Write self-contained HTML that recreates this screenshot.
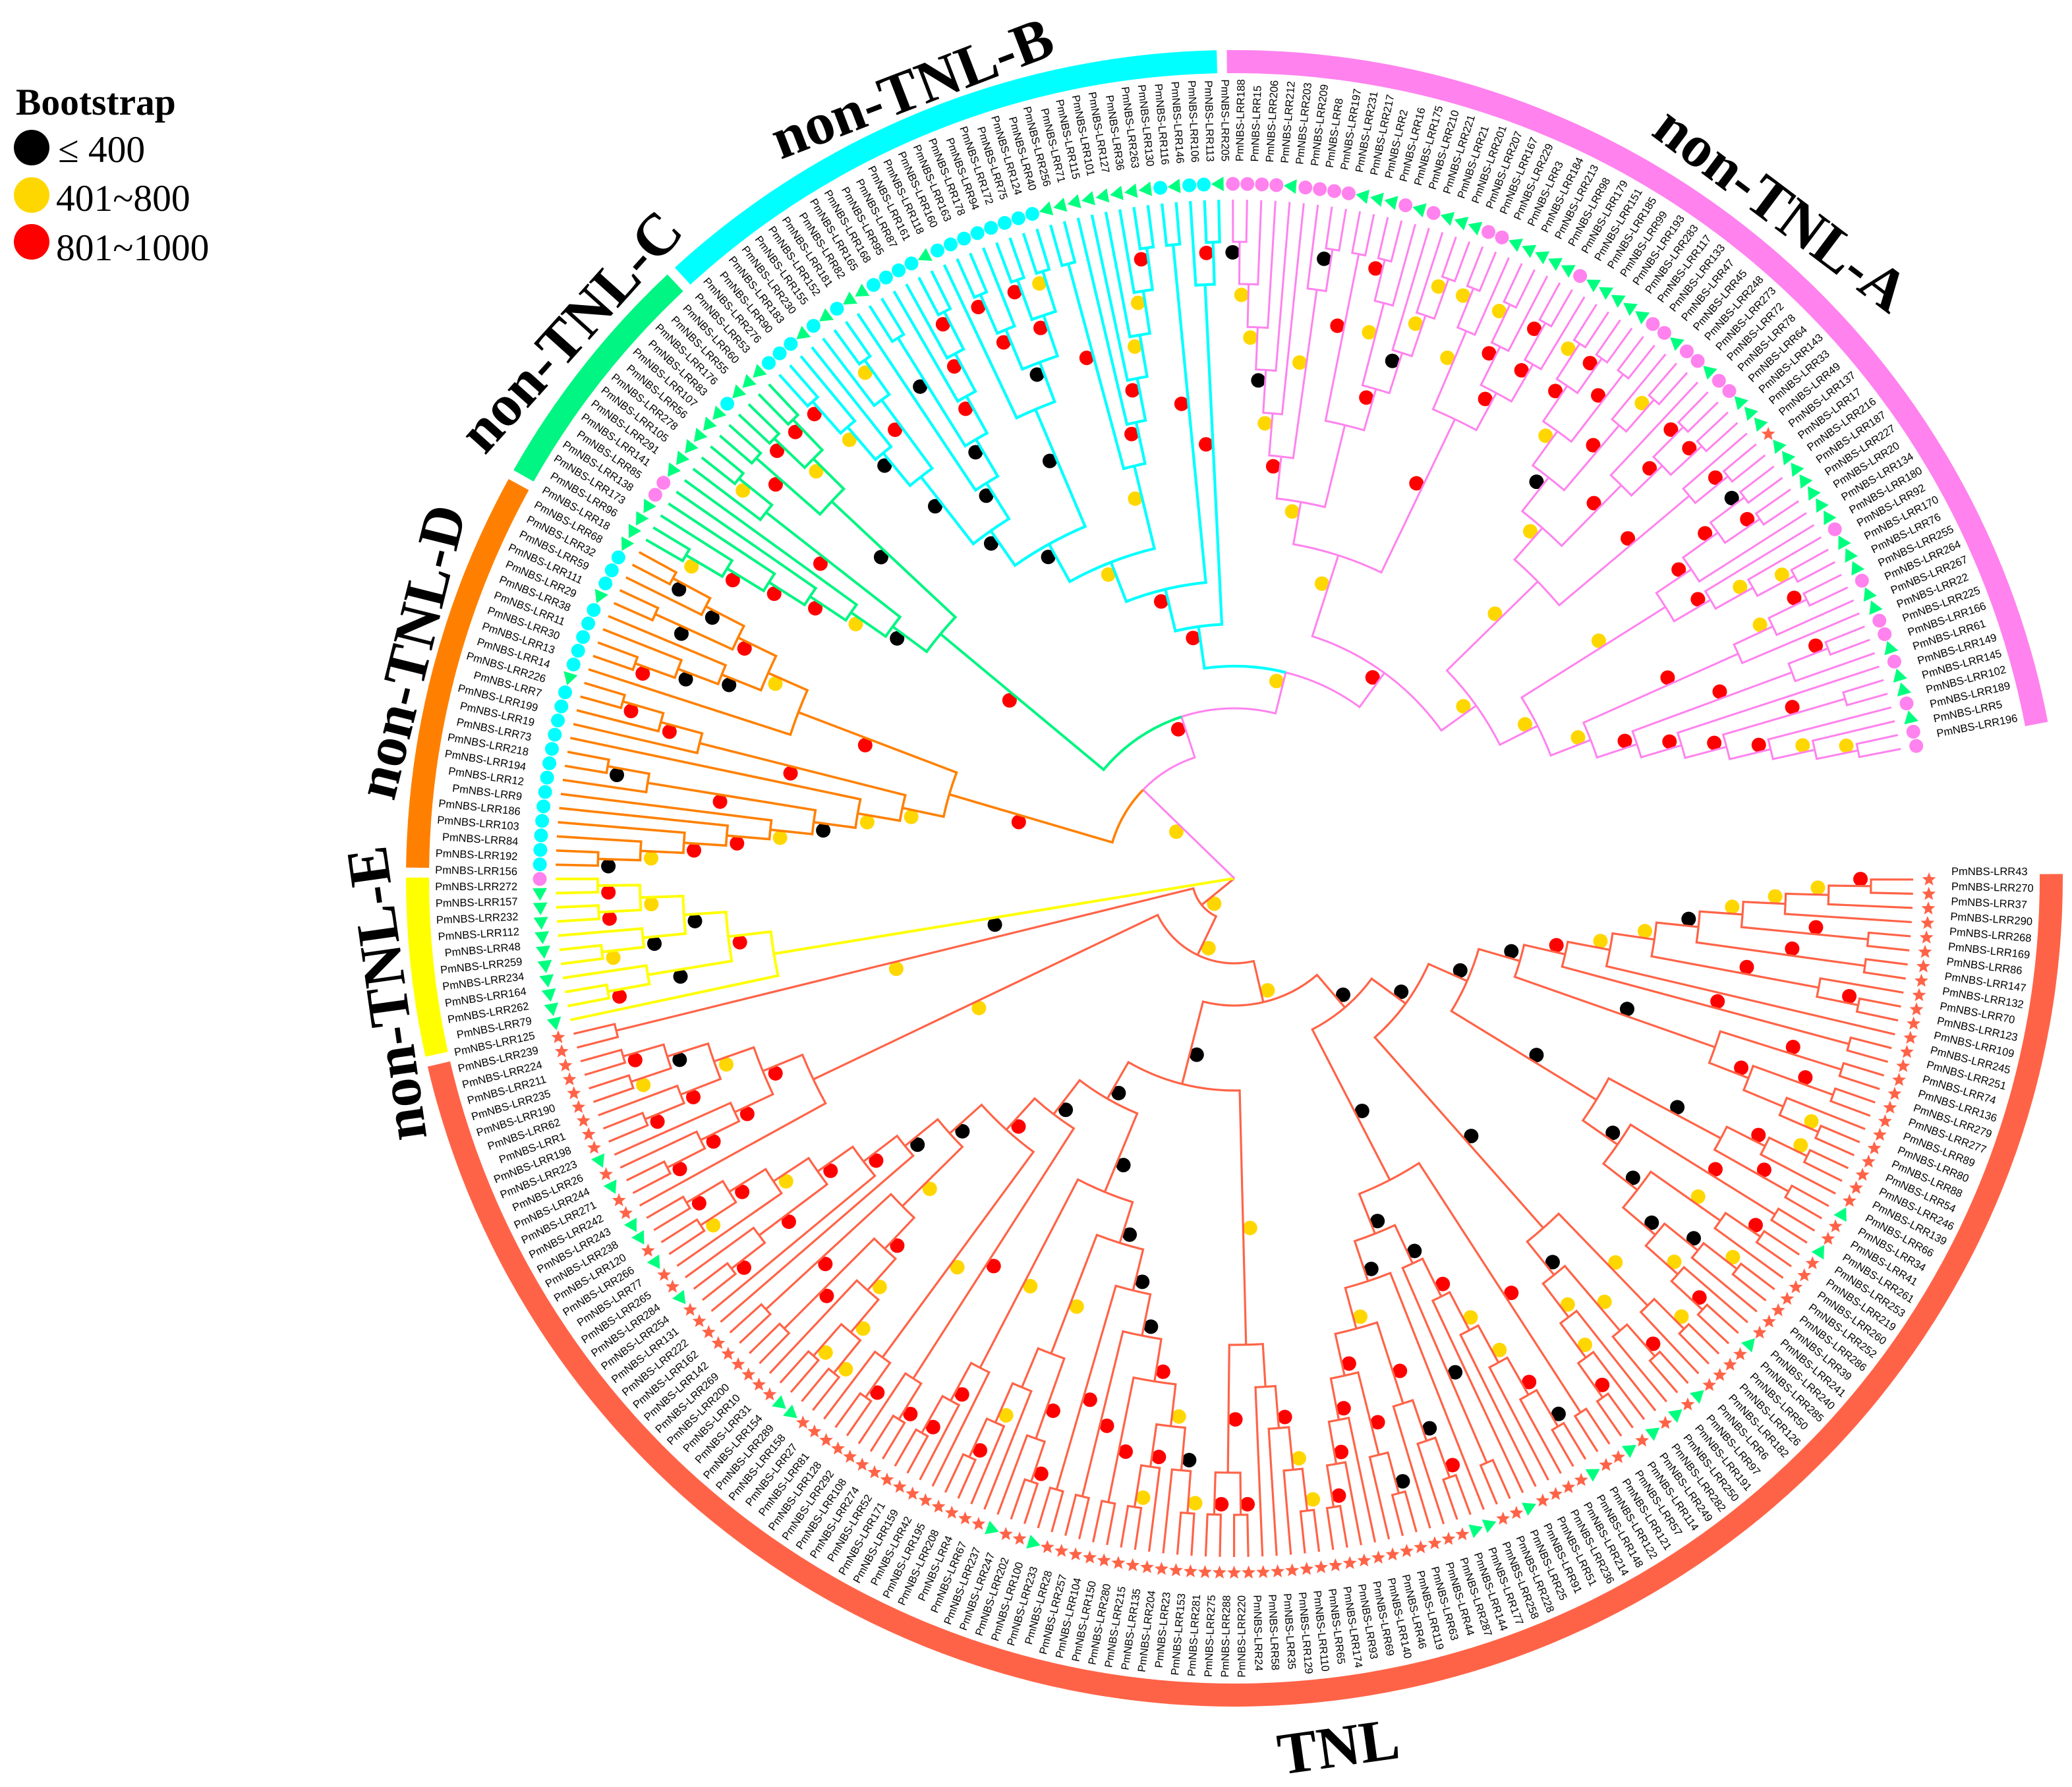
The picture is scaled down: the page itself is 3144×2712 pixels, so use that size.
<!DOCTYPE html>
<html lang="en">
<head>
<meta charset="utf-8">
<title>PmNBS-LRR circular phylogenetic tree</title>
<style>
html,body{margin:0;padding:0;background:#fff;}
svg{display:block;}
.title{font-family:"Liberation Serif",serif;font-weight:bold;font-size:90px;fill:#000;text-anchor:middle;dominant-baseline:central;}
.legend{font-family:"Liberation Serif",serif;font-size:57.5px;fill:#000;}
.tip{font-family:"Liberation Sans",sans-serif;font-size:16.5px;fill:#000;dominant-baseline:central;}
</style>
</head>
<body>
<svg id="tree-chart" xmlns="http://www.w3.org/2000/svg" width="3144" height="2712" viewBox="0 0 3144 2712">
  <rect x="0" y="0" width="3144" height="2712" fill="#ffffff"/>
  <g id="rings"></g>
  <g id="dots"></g>
  <g id="branches"></g>
  <g id="markers"></g>
  <g id="labels"></g>
  <g>
    <text class="title" transform="translate(2703,317) rotate(37)">non-TNL-A</text>
    <text class="title" transform="translate(1384,134) rotate(-21)">non-TNL-B</text>
    <text class="title" transform="translate(866,503) rotate(-48)">non-TNL-C</text>
    <text class="title" transform="translate(624,989) rotate(-76)">non-TNL-D</text>
    <text class="title" transform="translate(587,1508) rotate(-98)">non-TNL-E</text>
    <text class="title" transform="translate(2031,2651) rotate(-8)">TNL</text>
  </g>
  <g>
    <text x="24" y="174" class="legend" style="font-weight:bold">Bootstrap</text>
    <circle cx="48" cy="224" r="27" fill="#000000"/>
    <text x="88" y="246" class="legend">≤ 400</text>
    <circle cx="48" cy="296" r="27" fill="#FFD700"/>
    <text x="85" y="320" class="legend">401~800</text>
    <circle cx="48" cy="367" r="27" fill="#FF0000"/>
    <text x="85" y="395" class="legend">801~1000</text>
  </g>
</svg>
<script>
/* ---------- data ---------- */
const leafLabels = [
"PmNBS-LRR43","PmNBS-LRR270","PmNBS-LRR37","PmNBS-LRR290","PmNBS-LRR268","PmNBS-LRR169","PmNBS-LRR86","PmNBS-LRR147","PmNBS-LRR132","PmNBS-LRR70",
"PmNBS-LRR123","PmNBS-LRR109","PmNBS-LRR245","PmNBS-LRR251","PmNBS-LRR74","PmNBS-LRR136","PmNBS-LRR279","PmNBS-LRR277","PmNBS-LRR89","PmNBS-LRR80",
"PmNBS-LRR88","PmNBS-LRR54","PmNBS-LRR246","PmNBS-LRR139","PmNBS-LRR66","PmNBS-LRR34","PmNBS-LRR41","PmNBS-LRR261","PmNBS-LRR253","PmNBS-LRR219",
"PmNBS-LRR260","PmNBS-LRR252","PmNBS-LRR286","PmNBS-LRR39","PmNBS-LRR241","PmNBS-LRR240","PmNBS-LRR285","PmNBS-LRR50","PmNBS-LRR126","PmNBS-LRR182",
"PmNBS-LRR6","PmNBS-LRR97","PmNBS-LRR191","PmNBS-LRR250","PmNBS-LRR282","PmNBS-LRR249","PmNBS-LRR114","PmNBS-LRR57","PmNBS-LRR121","PmNBS-LRR122",
"PmNBS-LRR148","PmNBS-LRR214","PmNBS-LRR236","PmNBS-LRR51","PmNBS-LRR91","PmNBS-LRR25","PmNBS-LRR228","PmNBS-LRR258","PmNBS-LRR177","PmNBS-LRR144",
"PmNBS-LRR287","PmNBS-LRR44","PmNBS-LRR63","PmNBS-LRR119","PmNBS-LRR46","PmNBS-LRR140","PmNBS-LRR69","PmNBS-LRR93","PmNBS-LRR174","PmNBS-LRR65",
"PmNBS-LRR110","PmNBS-LRR129","PmNBS-LRR35","PmNBS-LRR58","PmNBS-LRR24","PmNBS-LRR220","PmNBS-LRR288","PmNBS-LRR275","PmNBS-LRR281","PmNBS-LRR153",
"PmNBS-LRR23","PmNBS-LRR204","PmNBS-LRR135","PmNBS-LRR215","PmNBS-LRR280","PmNBS-LRR150","PmNBS-LRR104","PmNBS-LRR257","PmNBS-LRR28","PmNBS-LRR233",
"PmNBS-LRR100","PmNBS-LRR202","PmNBS-LRR247","PmNBS-LRR237","PmNBS-LRR67","PmNBS-LRR4","PmNBS-LRR208","PmNBS-LRR195","PmNBS-LRR42","PmNBS-LRR159",
"PmNBS-LRR171","PmNBS-LRR52","PmNBS-LRR274","PmNBS-LRR108","PmNBS-LRR292","PmNBS-LRR128","PmNBS-LRR81","PmNBS-LRR27","PmNBS-LRR158","PmNBS-LRR289",
"PmNBS-LRR154","PmNBS-LRR31","PmNBS-LRR10","PmNBS-LRR200","PmNBS-LRR269","PmNBS-LRR142","PmNBS-LRR162","PmNBS-LRR222","PmNBS-LRR131","PmNBS-LRR254",
"PmNBS-LRR284","PmNBS-LRR265","PmNBS-LRR77","PmNBS-LRR266","PmNBS-LRR120","PmNBS-LRR238","PmNBS-LRR243","PmNBS-LRR242","PmNBS-LRR271","PmNBS-LRR244",
"PmNBS-LRR26","PmNBS-LRR223","PmNBS-LRR198","PmNBS-LRR1","PmNBS-LRR62","PmNBS-LRR190","PmNBS-LRR235","PmNBS-LRR211","PmNBS-LRR224","PmNBS-LRR239",
"PmNBS-LRR125","PmNBS-LRR79","PmNBS-LRR262","PmNBS-LRR164","PmNBS-LRR234","PmNBS-LRR259","PmNBS-LRR48","PmNBS-LRR112","PmNBS-LRR232","PmNBS-LRR157","PmNBS-LRR272",
"PmNBS-LRR156","PmNBS-LRR192","PmNBS-LRR84","PmNBS-LRR103","PmNBS-LRR186","PmNBS-LRR9","PmNBS-LRR12","PmNBS-LRR194","PmNBS-LRR218","PmNBS-LRR73",
"PmNBS-LRR19","PmNBS-LRR199","PmNBS-LRR7","PmNBS-LRR226","PmNBS-LRR14","PmNBS-LRR13","PmNBS-LRR30","PmNBS-LRR11","PmNBS-LRR38","PmNBS-LRR29",
"PmNBS-LRR111","PmNBS-LRR59","PmNBS-LRR32","PmNBS-LRR68","PmNBS-LRR18","PmNBS-LRR96","PmNBS-LRR173","PmNBS-LRR138","PmNBS-LRR85","PmNBS-LRR141",
"PmNBS-LRR291","PmNBS-LRR105","PmNBS-LRR278","PmNBS-LRR56","PmNBS-LRR107","PmNBS-LRR83","PmNBS-LRR176","PmNBS-LRR55","PmNBS-LRR60","PmNBS-LRR53",
"PmNBS-LRR276","PmNBS-LRR90","PmNBS-LRR183","PmNBS-LRR230","PmNBS-LRR155","PmNBS-LRR152","PmNBS-LRR181","PmNBS-LRR82","PmNBS-LRR165","PmNBS-LRR168",
"PmNBS-LRR95","PmNBS-LRR87","PmNBS-LRR161","PmNBS-LRR118","PmNBS-LRR160","PmNBS-LRR163","PmNBS-LRR178","PmNBS-LRR94","PmNBS-LRR172","PmNBS-LRR75",
"PmNBS-LRR124","PmNBS-LRR40","PmNBS-LRR256","PmNBS-LRR71","PmNBS-LRR115","PmNBS-LRR101","PmNBS-LRR127","PmNBS-LRR36","PmNBS-LRR263","PmNBS-LRR130",
"PmNBS-LRR116","PmNBS-LRR146","PmNBS-LRR106","PmNBS-LRR113","PmNBS-LRR205",
"PmNBS-LRR188","PmNBS-LRR15","PmNBS-LRR206","PmNBS-LRR212","PmNBS-LRR203","PmNBS-LRR209","PmNBS-LRR8","PmNBS-LRR197","PmNBS-LRR231","PmNBS-LRR217",
"PmNBS-LRR2","PmNBS-LRR16","PmNBS-LRR175","PmNBS-LRR210","PmNBS-LRR221","PmNBS-LRR21","PmNBS-LRR201","PmNBS-LRR207","PmNBS-LRR167","PmNBS-LRR229",
"PmNBS-LRR3","PmNBS-LRR184","PmNBS-LRR213","PmNBS-LRR98","PmNBS-LRR179","PmNBS-LRR151","PmNBS-LRR185","PmNBS-LRR99","PmNBS-LRR193","PmNBS-LRR283",
"PmNBS-LRR117","PmNBS-LRR133","PmNBS-LRR47","PmNBS-LRR45","PmNBS-LRR248","PmNBS-LRR273","PmNBS-LRR72","PmNBS-LRR78","PmNBS-LRR64","PmNBS-LRR143",
"PmNBS-LRR33","PmNBS-LRR49","PmNBS-LRR137","PmNBS-LRR17","PmNBS-LRR216","PmNBS-LRR187","PmNBS-LRR227","PmNBS-LRR20","PmNBS-LRR134","PmNBS-LRR180",
"PmNBS-LRR92","PmNBS-LRR170","PmNBS-LRR76","PmNBS-LRR255","PmNBS-LRR264","PmNBS-LRR267","PmNBS-LRR22","PmNBS-LRR225","PmNBS-LRR166","PmNBS-LRR61",
"PmNBS-LRR149","PmNBS-LRR145","PmNBS-LRR102","PmNBS-LRR189","PmNBS-LRR5","PmNBS-LRR196"
];

/* marker shape per leaf, run-length: s star, t triangle, p pink circle, c cyan circle */
const markerRuns = [['s',24],['t',1],['s',2],['t',1],['s',7],['t',1],['s',4],['t',1],['s',1],['t',1],['s',1],['t',1],['s',1],['t',1],['s',2],['t',1],['s',4],['t',1],['s',2],['t',2],['s',30],['t',1],['s',2],['t',1],['s',15],['t',2],['s',9],['t',1],['s',2],['t',1],['s',1],['t',2],['s',2],['t',1],['s',1],['t',1],['s',9],['t',10],['p',1],['c',13],['t',1],['c',5],['t',1],['c',3],['t',4],['p',2],['t',6],['c',1],['t',3],['c',3],['t',1],['c',1],['t',1],['c',1],['t',2],['c',4],['t',1],['c',8],['t',8],['c',1],['t',1],['c',2],['t',1],['p',4],['t',1],['p',4],['t',3],['p',1],['t',1],['p',1],['t',3],['p',2],['t',5],['p',1],['t',5],['p',2],['t',1],['p',2],['t',1],['p',2],['t',3],['s',1],['t',7],['p',1],['t',3],['p',1],['t',2],['p',2],['t',1],['p',1],['t',2],['p',1],['t',1],['p',2]];

const groupNames  = ['tnl','non-tnl-e','non-tnl-d','non-tnl-c','non-tnl-b','non-tnl-a'];
const groupFirst  = [0,140,151,175,190,225];
const groupLast   = [139,150,174,189,224,291];
const groupColors = ['#FF6347','#FFFF00','#FF8000','#00F582','#00FFFF','#FF82EE'];
const groupWidths = [3.2,4,3.6,4,4.2,3];

/* bootstrap support levels; N means no value drawn */
const K = 300, G = 600, R = 900, N = 0;

/* Tree nodes: [depth, bootstrap, ...children]; a leaf is 0. Leaves are numbered in order of appearance. */
const cladeRightA = [322,K,
 [386,K,
  [451,K,
   [515,R,
    [580,G,
     [644,G,
      [708,K,
       [773,G,[837,G,[902,G,[966,R,0,0],0],0],[966,R,0,0]],
       [966,R,0,0]],
      [902,R,0,[966,R,0,0]]],
     0],
    [966,R,0,0]],
   [773,K,
    [966,R,0,0],
    [837,R,
     [966,R,0,0],
     [902,N,0,[966,G,0,0]]]]],
  [644,K,
   [837,K,[902,R,[966,G,0,0],0],[966,R,0,0]],
   [708,K,
    [966,R,0,0],
    [773,K,
     [902,G,[966,R,0,0],0],
     [837,K,
      [902,K,[966,G,0,0],0],
      [902,G,0,[966,R,0,0]]]]]]],
 [708,K,
  [902,G,[966,G,0,0],0],
  [773,K,
   [902,G,[966,R,0,0],0],
   [837,G,0,[902,G,0,[966,R,0,0]]]]]];

const cladeRightB = [515,K,
 [966,R,0,0],
 [580,K,
  [644,K,
   [708,R,[773,G,[837,G,[902,R,[966,K,0,0],0],0],0],0],
   [966,K,0,0]],
  [644,K,0,
   [708,G,
    [837,R,[902,K,[966,R,0,0],0],0],
    [773,R,
     [902,R,[966,K,0,0],0],
     [837,R,0,[902,R,0,[966,R,0,0]]]]]]]];

const cladeBottomA = [708,G,
 [773,N,[837,R,[902,G,[966,G,0,0],0],0],0],
 [902,R,[966,R,0,0],[966,R,0,0]]];

const cladeBottomB = [386,K,
 [515,K,
  [580,K,
   [644,K,
    [708,K,
     [773,R,
      [837,G,
       [902,K,[966,G,0,0],0],
       [902,R,0,[966,G,0,0]]],
      [966,R,0,0]],
     [966,R,0,0]],
    [966,R,0,0]],
   [773,G,
    [902,R,[966,R,0,0],0],
    [837,N,0,[902,G,0,[966,R,0,0]]]]],
  [837,G,0,[902,R,0,[966,R,0,0]]]],
 [451,K,
  [902,R,[966,R,0,0],0],
  [515,R,
   [902,G,[966,R,0,0],0],
   [580,K,
    [708,G,
     [773,R,
      [837,G,[902,G,[966,G,0,0],[966,G,0,0]],0],
      [966,R,0,0]],
     [966,R,0,0]],
    [644,K,0,
     [708,R,0,
      [773,R,
       [902,R,[966,R,0,0],0],
       [837,G,0,[902,R,[966,G,0,0],[966,R,0,0]]]]]]]]]];

const cladeLowerLeft = [708,G,0,
 [773,R,
  [837,R,[902,R,[966,R,0,0],0],0],
  [837,G,
   [902,R,[966,R,0,0],0],
   [902,K,[966,G,0,0],[966,R,0,0]]]]];

const cladeTomato = [64,G,
 [129,G,
  [193,G,
   [258,K,cladeRightA,cladeRightB],
   [322,K,cladeBottomA,cladeBottomB]],
  cladeLowerLeft],
 [966,G,0,0]];

const cladeYellow = [708,K,0,
 [773,R,
  [902,K,[966,R,0,0],0],
  [837,K,
   [902,K,[966,G,0,0],0],
   [902,G,[966,R,0,0],[966,R,0,0]]]]];

const cladeOrange = [451,R,
 [515,G,
  [580,G,
   [644,K,
    [708,G,[773,R,[837,R,[902,G,[966,K,0,0],0],0],0],0],
    [902,R,0,[966,K,0,0]]],
   0],
  [837,R,0,[902,R,0,[966,R,0,0]]]],
 [708,R,0,
  [773,G,
   [837,K,[902,K,[966,R,0,0],0],0],
   [837,R,[966,K,0,0],[902,K,0,[966,K,0,0]]]]]];

const cladeGreen = [580,R,
 [644,K,
  [708,G,[773,R,[837,R,[902,R,[966,G,0,0],0],0],0],0],
  [902,R,0,[966,G,0,0]]],
 [837,K,
  [966,R,0,0],
  [902,G,[966,R,0,0],[966,R,0,0]]]];

const cladeCyan = [386,R,
 [451,R,
  [515,G,
   [580,K,
    [644,K,
     [773,K,
      [837,K,[902,G,[966,R,0,0],0],0],
      [902,R,0,[966,G,0,0]]],
     [708,K,0,
      [773,K,
       [966,K,0,0],
       [837,R,0,[902,R,0,[966,R,0,0]]]]]],
    [773,K,0,
     [837,K,
      [902,R,[966,R,0,0],0],
      [902,R,[966,R,0,0],[966,G,0,0]]]]],
   [644,G,
    [966,R,0,0],
    [708,R,0,[773,R,0,[837,G,0,[902,G,0,[966,R,0,0]]]]]]],
  [966,R,0,0]],
 [902,R,0,[966,R,0,0]]];

const cladePinkLeft = [515,G,
 [580,G,
  [644,R,
   [708,G,[773,K,[837,G,[902,G,[966,K,0,0],0],0],0],0],
   [902,G,0,[966,K,0,0]]],
  [708,N,
   [966,R,0,0],
   [773,R,
    [902,G,[966,R,0,0],0],
    [837,K,0,[902,G,0,[966,G,0,0]]]]]],
 [773,R,
  [902,G,[966,G,0,0],0],
  [837,R,
   [902,R,[966,G,0,0],0],
   [902,R,[966,R,0,0],0]]]];

const cladePinkRight = [451,G,
 [644,G,
  [708,G,
   [773,K,
    [837,G,
     [902,R,[966,G,0,0],[966,R,0,0]],
     [966,R,0,0]],
    [902,R,0,[966,G,0,0]]],
   [837,R,0,
    [902,R,[966,R,0,0],[966,R,0,0]]]],
  [902,R,0,[966,R,0,0]]],
 [515,G,
  [773,G,
   [837,R,[902,R,[966,K,0,0],[966,R,0,0]],0],
   [837,R,0,[902,G,0,[966,G,0,0]]]],
  [580,G,
   [837,R,[902,G,[966,R,0,0],0],0],
   [644,R,
    [902,R,[966,R,0,0],0],
    [708,R,0,
     [773,R,
      [966,R,0,0],
      [837,R,0,[902,G,0,[966,G,0,0]]]]]]]]];

const cladeUpper = [193,G,
 cladeOrange,
 [258,R,
  cladeGreen,
  [322,G,
   cladeCyan,
   [386,R,cladePinkLeft,cladePinkRight]]]];

const treeRoot = [0,N,cladeTomato,cladeYellow,cladeUpper];

/* ---------- axis functions ---------- */
const CX = 1873, CY = 1333;
const TIP_DEPTH = 1030;
const MAX_RADIUS = 1030;
function radiusScale(depth){ return depth * MAX_RADIUS / TIP_DEPTH; }
function angleScale(leafPosition){ return 0.1 + leafPosition * 1.199; }
function polar(radius, deg){
  const a = deg * Math.PI / 180;
  return [CX + radius * Math.cos(a), CY + radius * Math.sin(a)];
}
function tangentCCW(deg){
  const a = deg * Math.PI / 180;
  return [Math.sin(a), -Math.cos(a)];
}
function f(v){ return v.toFixed(2); }

const NS = 'http://www.w3.org/2000/svg';
function create(tag, parentId){
  const el = document.createElementNS(NS, tag);
  document.getElementById(parentId).appendChild(el);
  return el;
}
function bootstrapColor(v){
  if (v <= 400) return '#000000';
  if (v <= 800) return '#FFD700';
  return '#FF0000';
}

/* ---------- clade rings ---------- */
groupNames.forEach(function(name, g){
  const a0 = angleScale(groupFirst[g]) - 0.4;
  const a1 = angleScale(groupLast[g]) + 0.1;
  const rIn = 1222, rOut = 1257;
  const p0 = polar(rOut, a0), p1 = polar(rOut, a1), p2 = polar(rIn, a1), p3 = polar(rIn, a0);
  const large = (a1 - a0) > 180 ? 1 : 0;
  const el = create('path', 'rings');
  el.setAttribute('d', 'M' + f(p0[0]) + ' ' + f(p0[1]) + ' A' + rOut + ' ' + rOut + ' 0 ' + large + ' 1 ' + f(p1[0]) + ' ' + f(p1[1]) +
    ' L' + f(p2[0]) + ' ' + f(p2[1]) + ' A' + rIn + ' ' + rIn + ' 0 ' + large + ' 0 ' + f(p3[0]) + ' ' + f(p3[1]) + ' Z');
  el.setAttribute('fill', groupColors[g]);
  
  
});

/* ---------- tree layout ---------- */
let leafCounter = 0;
function layout(node){
  if (node === 0){
    const i = leafCounter;
    leafCounter += 1;
    return { depth: TIP_DEPTH, boot: N, pos: i, first: i, last: i, kids: [] };
  }
  const kids = node.slice(2).map(layout);
  return {
    depth: node[0],
    boot: node[1],
    pos: (kids[0].pos + kids[kids.length - 1].pos) / 2,
    first: kids[0].first,
    last: kids[kids.length - 1].last,
    kids: kids
  };
}
const laidOut = layout(treeRoot);

function groupIndexFor(n){
  for (let g = 0; g < groupNames.length; g++){
    if (n.first >= groupFirst[g] && n.last <= groupLast[g]) return g;
  }
  return groupNames.length - 1;
}

function drawNode(n){
  const rNode = radiusScale(n.depth);
  const aNode = angleScale(n.pos);
  n.kids.forEach(function(k){
    const g = groupIndexFor(k);
    const aKid = angleScale(k.pos);
    const rKid = radiusScale(k.depth);
    const s = polar(rNode, aNode), m = polar(rNode, aKid), e = polar(rKid, aKid);
    let d = 'M' + f(s[0]) + ' ' + f(s[1]);
    if (rNode > 0 && Math.abs(aKid - aNode) > 0.001){
      const sweep = aKid > aNode ? 1 : 0;
      d += ' A' + f(rNode) + ' ' + f(rNode) + ' 0 0 ' + sweep + ' ' + f(m[0]) + ' ' + f(m[1]);
    }
    d += ' L' + f(e[0]) + ' ' + f(e[1]);
    const br = create('path', 'branches');
    br.setAttribute('d', d);
    br.setAttribute('fill', 'none');
    br.setAttribute('stroke', groupColors[g]);
    br.setAttribute('stroke-width', groupWidths[g]);
    br.setAttribute('stroke-linejoin', 'miter');
    
    
    if (k.boot > 0){
      const rDot = (rNode + rKid) / 2 + 16;
      const c = polar(rDot, aKid);
      const t = tangentCCW(aKid);
      const dot = create('circle', 'dots');
      dot.setAttribute('cx', f(c[0] + 10.5 * t[0]));
      dot.setAttribute('cy', f(c[1] + 10.5 * t[1]));
      dot.setAttribute('r', '11');
      dot.setAttribute('fill', bootstrapColor(k.boot));
      
      
    }
    drawNode(k);
  });
}
drawNode(laidOut);

/* ---------- tip markers ---------- */
const leafShapes = [];
markerRuns.forEach(function(run){
  for (let j = 0; j < run[1]; j++) leafShapes.push(run[0]);
});
const MARKER_RADIUS = 1054;
leafShapes.forEach(function(shape, i){
  const deg = angleScale(i);
  const c = polar(MARKER_RADIUS, deg);
  if (shape === 'p' || shape === 'c'){
    const el = create('circle', 'markers');
    el.setAttribute('cx', f(c[0]));
    el.setAttribute('cy', f(c[1]));
    el.setAttribute('r', '10.5');
    el.setAttribute('fill', shape === 'p' ? '#FF82EE' : '#00FFFF');
    
    
  } else if (shape === 't'){
    const t = tangentCCW(deg);
    const nx = -t[1], ny = t[0];
    const pts = [
      [c[0] + 11 * t[0], c[1] + 11 * t[1]],
      [c[0] - 8 * t[0] + 11 * nx, c[1] - 8 * t[1] + 11 * ny],
      [c[0] - 8 * t[0] - 11 * nx, c[1] - 8 * t[1] - 11 * ny]
    ];
    const el = create('polygon', 'markers');
    el.setAttribute('points', pts.map(function(p){ return f(p[0]) + ',' + f(p[1]); }).join(' '));
    el.setAttribute('fill', '#00FF7F');
    
    
  } else {
    const pts = [];
    for (let j = 0; j < 10; j++){
      const rad = j % 2 === 0 ? 11 : 4.8;
      const a = (-90 + j * 36) * Math.PI / 180;
      pts.push(f(c[0] + rad * Math.cos(a)) + ',' + f(c[1] + rad * Math.sin(a)));
    }
    const el = create('polygon', 'markers');
    el.setAttribute('points', pts.join(' '));
    el.setAttribute('fill', '#FF6347');
    
    
  }
});

/* ---------- tip labels ---------- */
const LABEL_RADIUS = 1088;
leafLabels.forEach(function(text, i){
  const deg = angleScale(i);
  const c = polar(LABEL_RADIUS, deg);
  const t = tangentCCW(deg);
  const x = c[0] + 12 * t[0];
  const y = c[1] + 12 * t[1];
  const leftSide = deg > 90 && deg < 270;
  const rot = leftSide ? deg - 180 : deg;
  const el = create('text', 'labels');
  el.setAttribute('class', 'tip');
  el.setAttribute('transform', 'translate(' + f(x) + ',' + f(y) + ') rotate(' + f(rot) + ')');
  el.setAttribute('text-anchor', leftSide ? 'end' : 'start');
  
  
  el.textContent = text;
});
</script>
</body>
</html>
